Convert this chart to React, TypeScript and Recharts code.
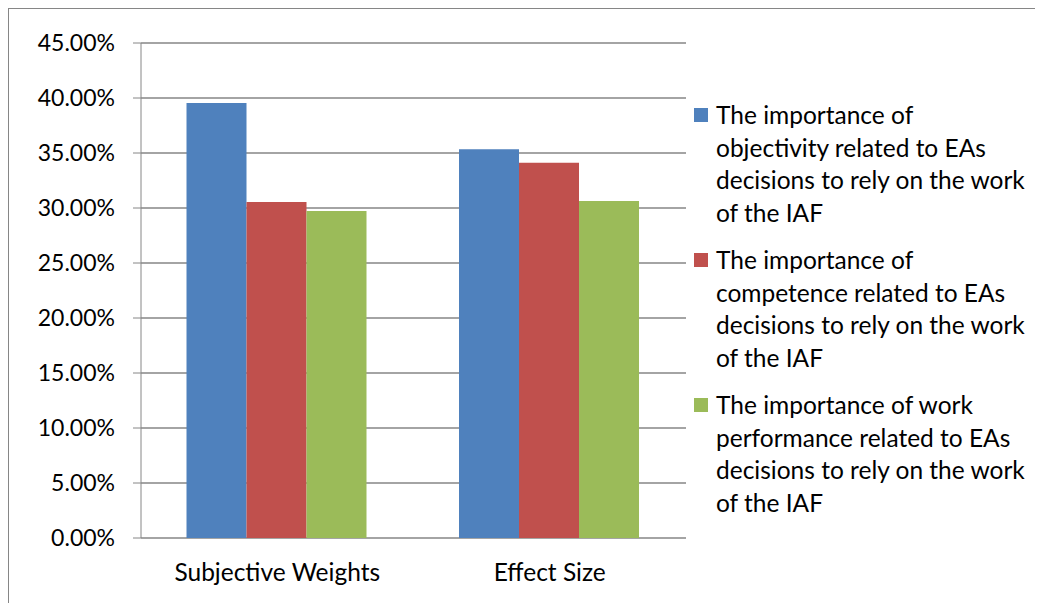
import React from 'react'
import { BarChart, Bar, XAxis, YAxis, CartesianGrid, Legend } from 'recharts'

const categories = ['Subjective Weights', 'Effect Size']
const objectivity = [39.55, 35.34]
const competence = [30.55, 34.12]
const workPerformance = [29.73, 30.64]
const yTicks = [0, 5, 10, 15, 20, 25, 30, 35, 40, 45]

const series = [
  { key: 'objectivity', values: objectivity, color: '#4F81BD',
    lines: ['The importance of', 'objectivity related to EAs', 'decisions to rely on the work', 'of the IAF'] },
  { key: 'competence', values: competence, color: '#C0504D',
    lines: ['The importance of', 'competence related to EAs', 'decisions to rely on the work', 'of the IAF'] },
  { key: 'workPerformance', values: workPerformance, color: '#9BBB59',
    lines: ['The importance of work', 'performance related to EAs', 'decisions to rely on the work', 'of the IAF'] },
]

const data = categories.map((name, i) => {
  const row: Record<string, string | number> = { name, pos: i + 0.5 }
  series.forEach((s) => (row[s.key] = s.values[i]))
  return row
})

const FONT = 'Lato, sans-serif'
const AXIS = '#868686'

const LegendBox = () => (
  <div style={{ fontFamily: FONT, fontSize: 24.5, color: '#000' }}>
    {series.map((s) => (
      <div key={s.key} style={{ position: 'relative', paddingLeft: 22, marginBottom: 15, lineHeight: '32.5px' }}>
        <div style={{ position: 'absolute', left: 0, top: 9, width: 14, height: 14, background: s.color }} />
        {s.lines.map((l) => (
          <div key={l} style={{ whiteSpace: 'nowrap' }}>{l}</div>
        ))}
      </div>
    ))}
  </div>
)

export default function App() {
  return (
    <div
      style={{
        position: 'relative',
        width: 1034,
        height: 594,
        borderTop: `1px solid ${AXIS}`,
        borderLeft: `1px solid ${AXIS}`,
        overflow: 'hidden',
        background: '#fff',
      }}
    >
      <BarChart
        width={1034}
        height={594}
        data={data}
        margin={{ top: 34, right: 357, bottom: 0, left: 0 }}
        barGap={0}
        barCategoryGap="16.7%"
      >
        <CartesianGrid horizontal vertical={false} stroke={AXIS} strokeWidth={1.3} />
        <XAxis
          xAxisId="edges"
          type="number"
          dataKey="pos"
          domain={[0, 2]}
          ticks={[0, 1, 2]}
          tick={false}
          tickSize={8}
          stroke={AXIS}
          height={0}
        />
        <XAxis
          dataKey="name"
          axisLine={false}
          tickLine={false}
          tickSize={0}
          tickMargin={26}
          tick={{ fill: '#000', fontSize: 24.5, fontFamily: FONT }}
          height={65}
        />
        <YAxis
          domain={[0, 45]}
          ticks={yTicks}
          width={132}
          tickSize={8}
          tickMargin={18}
          stroke={AXIS}
          interval={0}
          tickFormatter={(v: number) => v.toFixed(2) + '%'}
          tick={{ fill: '#000', fontSize: 23, fontFamily: FONT }}
        />
        <Legend
          layout="vertical"
          align="center"
          verticalAlign="middle"
          wrapperStyle={{ left: 685, top: 90, width: 345 }}
          content={() => <LegendBox />}
        />
        {series.map((s) => (
          <Bar key={s.key} dataKey={s.key} fill={s.color} isAnimationActive={false} />
        ))}
      </BarChart>
    </div>
  )
}
